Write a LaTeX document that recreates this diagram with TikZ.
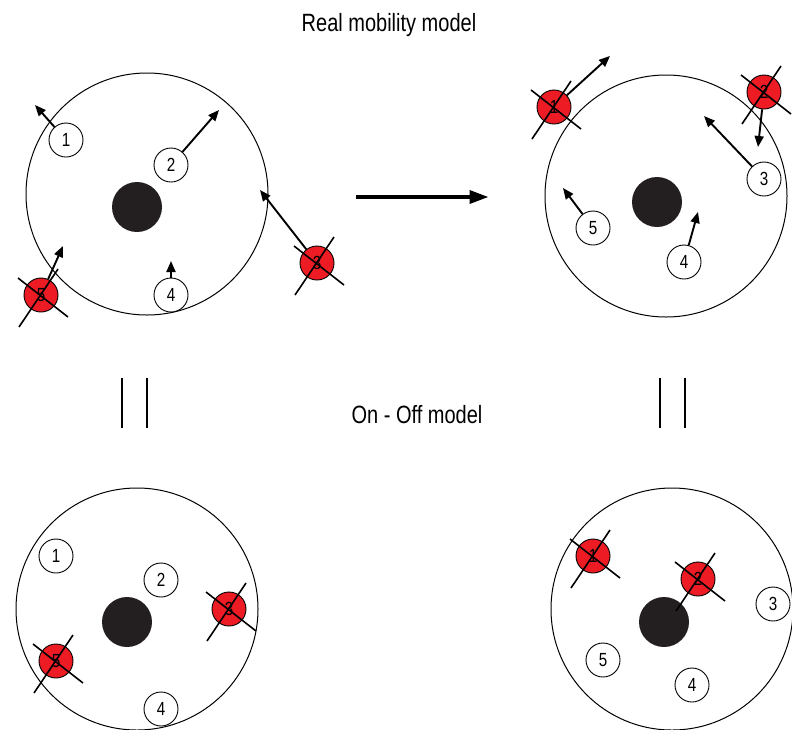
\documentclass[tikz,border=0pt]{standalone}
\usepackage{fontspec}
\setmainfont{Liberation Sans}
\newfontfamily\narrowfont{Liberation Sans}[FakeStretch=0.8]
\usetikzlibrary{calc,arrows.meta}
\definecolor{offred}{RGB}{237,28,36}
\definecolor{bsblack}{RGB}{35,31,32}

% two strokes through a switched-off user
\newcommand{\crossout}[1]{%
  \draw[crossline] ($(#1)+(-23,-17)$) -- ($(#1)+(27,22)$)
                   ($(#1)+(17,-26)$) -- ($(#1)+(-22,32)$);}

\begin{document}
\begin{tikzpicture}[x=1pt,y=-1pt,
    cell/.style={circle,draw,line width=1pt,minimum size=242pt,inner sep=0pt},
    bs/.style={circle,fill=bsblack,minimum size=50pt,inner sep=0pt},
    user/.style={circle,draw,line width=0.9pt,fill=white,minimum size=34pt,inner sep=0pt,font=\narrowfont\fontsize{19}{19}\selectfont},
    offuser/.style={user,fill=offred},
    crossline/.style={line width=1.6pt},
    move/.style={line width=1.9pt,-{Triangle[length=11pt,width=9pt]}},
    caption/.style={font=\narrowfont\fontsize{25}{27}\selectfont}]
\useasboundingbox (0,0) rectangle (792,729);

\node[caption] (real) at (389,25) {Real mobility model};
\node[caption] (onoff) at (417,415) {On - Off model};

% cell before the move
\node[cell] (cellA) at (147,194) {};
\node[bs] (bsA) at (137,207) {};
\node[user] (a1) at (66,140) {1};
\node[user] (a2) at (171,165) {2};
\node[offuser] (a3) at (317,263) {3};
\node[user] (a4) at (171,295) {4};
\node[offuser] (a5) at (41,295) {5};
\coordinate (ta1) at (35,105);
\coordinate (ta2) at (219,110);
\coordinate (ta3) at (260,190);
\coordinate (ta4) at (171,261);
\coordinate (ta5) at (63,246);
\foreach \u in {1,...,5}
  \draw[move] (a\u) -- (ta\u);
\crossout{a3}
\crossout{a5}

% cell after the move
\node[cell] (cellB) at (666,196) {};
\node[bs] (bsB) at (657,202) {};
\node[offuser] (b1) at (554,107) {1};
\node[offuser] (b2) at (764,92) {2};
\node[user] (b3) at (764,179) {3};
\node[user] (b4) at (684,262) {4};
\node[user] (b5) at (593,228) {5};
\coordinate (tb1) at (610,56);
\coordinate (tb2) at (758,147);
\coordinate (tb3) at (704,116);
\coordinate (tb4) at (698,212);
\coordinate (tb5) at (563,188);
\foreach \u in {1,...,5}
  \draw[move] (b\u) -- (tb\u);
\crossout{b1}
\crossout{b2}

\draw[line width=3.6pt,-{Triangle[length=19pt,width=13pt]}] (cellA.east) ++(87,3) coordinate (s) -- ++(133,0) coordinate (e);

% equivalence marks
\coordinate (eqA1) at (122,378); \coordinate (eqA2) at (147,378);
\coordinate (eqB1) at (660,378); \coordinate (eqB2) at (685,378);
\foreach \p in {eqA1,eqA2,eqB1,eqB2}
  \draw[line width=1.6pt] (\p) -- ++(0,50);

% on-off snapshot, left
\node[cell] (cellC) at (137,609) {};
\node[bs] (bsC) at (127,622) {};
\node[user] (c1) at (56,556) {1};
\node[user] (c2) at (161,580) {2};
\node[offuser] (c3) at (229,609) {3};
\node[user] (c4) at (161,709) {4};
\node[offuser] (c5) at (56,661) {5};
\crossout{c3}
\crossout{c5}

% on-off snapshot, right
\node[cell] (cellD) at (672,609) {};
\node[bs] (bsD) at (664,622) {};
\node[offuser] (d1) at (593,556) {1};
\node[offuser] (d2) at (698,579) {2};
\node[user] (d3) at (773,604) {3};
\node[user] (d4) at (692,685) {4};
\node[user] (d5) at (603,660) {5};
\crossout{d1}
\crossout{d2}
\end{tikzpicture}
\end{document}
